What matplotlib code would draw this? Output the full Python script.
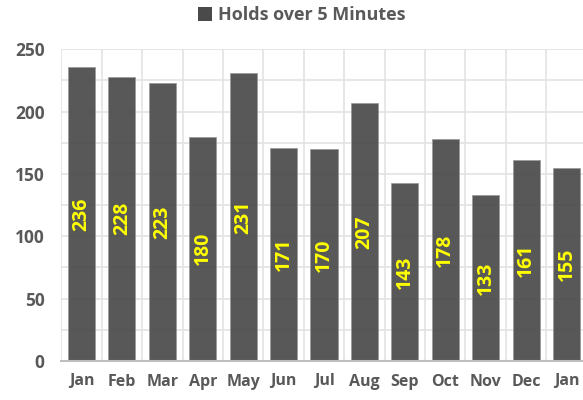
import numpy as np
import matplotlib
matplotlib.use("Agg")
import matplotlib.pyplot as plt
from matplotlib.patches import Patch

months = ["Jan", "Feb", "Mar", "Apr", "May", "Jun", "Jul", "Aug", "Sep", "Oct", "Nov", "Dec", "Jan"]
holds = [236, 228, 223, 180, 231, 171, 170, 207, 143, 178, 133, 161, 155]
series_name = "Holds over 5 Minutes"

plt.rcParams['font.family'] = ['Open Sans', 'DejaVu Sans']

fig = plt.figure(figsize=(5.83, 4.0), dpi=100)
ax = fig.add_axes([61.3 / 583, 1 - 361 / 400, (586.7 - 61.3) / 583, (361 - 49.3) / 400])

x = np.arange(len(months))
bars = ax.bar(x, holds, width=0.67, color='#4a4a4a', alpha=0.92,
              edgecolor='#9a9a9a', linewidth=0.6, zorder=2)

for xi, v in zip(x, holds):
    ax.text(xi, v / 2, str(v), rotation=90, ha='center', va='center',
            fontsize=14, weight='bold', color='#ffff00', zorder=3)

ax.set_xlim(-0.5, len(months) - 0.5)
ax.set_ylim(0, 250)
ax.set_yticks(np.arange(0, 251, 50))
ax.set_yticks(np.arange(0, 251, 25), minor=True)
ax.set_xticks(x)
ax.set_xticklabels(months)
ax.set_xticks(np.arange(-0.5, len(months), 1), minor=True)

ax.tick_params(axis='both', which='both', length=0)
ax.tick_params(axis='y', labelsize=12.5, labelcolor='#595959', pad=12)
ax.tick_params(axis='x', labelsize=11.5, labelcolor='#595959', pad=9)
for lbl in ax.get_xticklabels() + ax.get_yticklabels():
    lbl.set_fontweight('bold')

ax.set_axisbelow(True)
ax.grid(True, which='minor', axis='both', color='#e3e3e3', linewidth=1.2, zorder=0)
ax.grid(True, which='major', axis='y', color='#e3e3e3', linewidth=1.2, zorder=0)
ax.grid(False, which='major', axis='x')

for side in ['top', 'right', 'left']:
    ax.spines[side].set_visible(False)
ax.spines['bottom'].set_color('#bfbfbf')
ax.spines['bottom'].set_linewidth(1.5)

handle = Patch(facecolor='#4a4a4a', edgecolor='none')
fig.legend([handle], [series_name], loc='center', bbox_to_anchor=(0.517, 1 - 15 / 400),
           frameon=False, prop={'size': 13, 'weight': 'bold'},
           handlelength=0.8, handleheight=0.8, handletextpad=0.3, labelcolor='#595959')

fig.savefig("out.png", dpi=100)
